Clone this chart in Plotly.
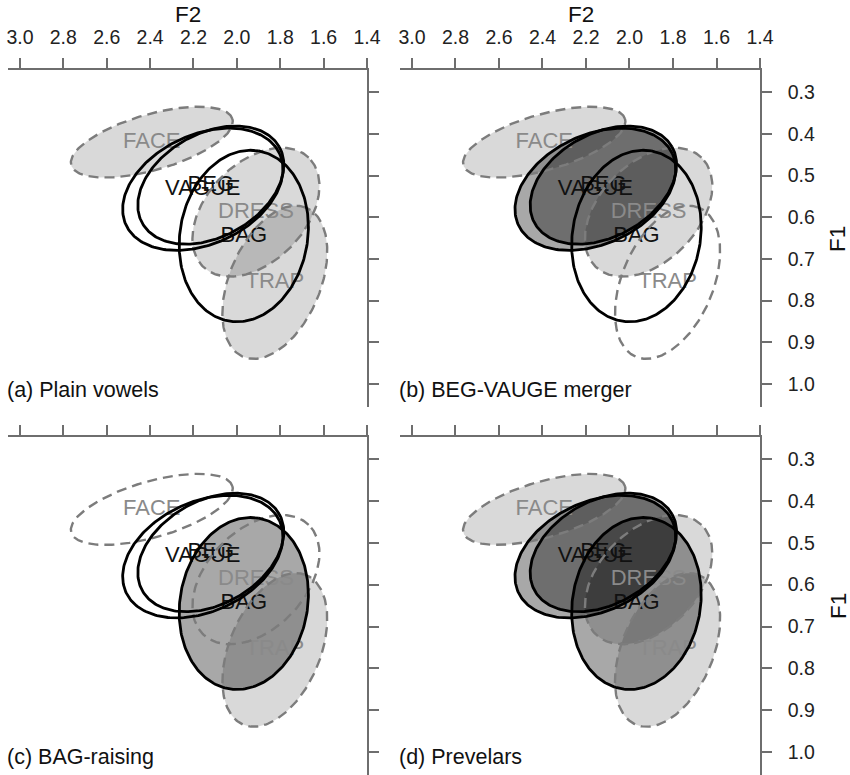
import numpy as np
import plotly.graph_objects as go

W, H = 850, 775

# ---- data -------------------------------------------------------------
vowels = ["FACE", "VAGUE", "BEG", "DRESS", "TRAP", "BAG"]
f2_center = [2.392, 2.157, 2.120, 1.912, 1.825, 1.968]   # kHz
f1_center = [0.420, 0.533, 0.523, 0.588, 0.756, 0.645]   # kHz
semi_major = [0.201, 0.203, 0.188, 0.182, 0.194, 0.207]  # in F1 units (display-equivalent)
semi_minor = [0.067, 0.131, 0.124, 0.118, 0.109, 0.153]
angle_deg = [16, 25, 29, 46, 67, 80]
vowel_kind = ["plain", "target", "target", "plain", "plain", "target"]

panel_titles = ["(a) Plain vowels", "(b) BEG-VAUGE merger", "(c) BAG-raising", "(d) Prevelars"]
panel_filled = [
    ["FACE", "DRESS", "TRAP"],
    ["FACE", "DRESS", "BEG", "VAGUE"],
    ["TRAP", "BAG"],
    ["FACE", "DRESS", "TRAP", "BEG", "VAGUE", "BAG"],
]

f2_ticks = [3.0, 2.8, 2.6, 2.4, 2.2, 2.0, 1.8, 1.6, 1.4]
f1_ticks = [0.3, 0.4, 0.5, 0.6, 0.7, 0.8, 0.9, 1.0]

# ---- layout geometry ----------------------------------------------------
x_range = [3.055, 1.4]
y_range = [1.055, 0.247]
x_doms = [[8 / W, 367 / W], [400 / W, 760 / W]]
y_doms = [[1 - 407 / H, 1 - 70 / H], [0.0, 1 - 437 / H]]

px_per_f2 = W * (x_doms[0][1] - x_doms[0][0]) / abs(x_range[0] - x_range[1])
px_per_f1 = H * (y_doms[0][1] - y_doms[0][0]) / abs(y_range[0] - y_range[1])
ratio = px_per_f1 / px_per_f2

FONT = "Liberation Sans, Arial, Helvetica, sans-serif"
LIGHT = "rgba(0,0,0,0.15)"
MEDIUM = "rgba(0,0,0,0.34)"
DASH_COL = "#7c7c7c"
AX_COL = "#6e6e6e"


def ellipse(i, n=240):
    t = np.linspace(0, 2 * np.pi, n)
    th = np.deg2rad(angle_deg[i])
    u = semi_major[i] * np.cos(t)
    v = semi_minor[i] * np.sin(t)
    du = u * np.cos(th) - v * np.sin(th)
    dv = u * np.sin(th) + v * np.cos(th)
    return f2_center[i] - du * ratio, f1_center[i] - dv


fig = go.Figure()

for p in range(4):
    row, col = divmod(p, 2)
    sfx = "" if p == 0 else str(p + 1)
    xa, ya = "x" + sfx, "y" + sfx

    # fills
    for i, v in enumerate(vowels):
        if v in panel_filled[p]:
            ex, ey = ellipse(i)
            fig.add_trace(go.Scatter(
                x=ex, y=ey, mode="lines", fill="toself",
                fillcolor=LIGHT if vowel_kind[i] == "plain" else MEDIUM,
                line=dict(width=0), hoverinfo="skip", showlegend=False,
                xaxis=xa, yaxis=ya))
    # labels
    for i, v in enumerate(vowels):
        fig.add_trace(go.Scatter(
            x=[f2_center[i]], y=[f1_center[i]], mode="text", text=[v],
            textposition="middle center",
            textfont=dict(family=FONT, size=22,
                          color="#8a8a8a" if vowel_kind[i] == "plain" else "#111111"),
            hoverinfo="skip", showlegend=False, xaxis=xa, yaxis=ya))
    # dashed outlines
    for i, v in enumerate(vowels):
        if vowel_kind[i] == "plain":
            ex, ey = ellipse(i)
            fig.add_trace(go.Scatter(
                x=ex, y=ey, mode="lines",
                line=dict(color=DASH_COL, width=2.4, dash="10px,6px"),
                hoverinfo="skip", showlegend=False, xaxis=xa, yaxis=ya))
    # solid outlines
    for i, v in enumerate(vowels):
        if vowel_kind[i] == "target":
            ex, ey = ellipse(i)
            fig.add_trace(go.Scatter(
                x=ex, y=ey, mode="lines",
                line=dict(color="#000000", width=2.8),
                hoverinfo="skip", showlegend=False, xaxis=xa, yaxis=ya))

    ax_common = dict(showgrid=False, zeroline=False, showline=True,
                     linecolor=AX_COL, linewidth=1.5, ticks="outside",
                     ticklen=10, tickwidth=1.5, tickcolor=AX_COL,
                     automargin=False, fixedrange=True,
                     tickfont=dict(family=FONT, size=19.5, color="#222222"))
    fig.layout["xaxis" + sfx] = dict(
        ax_common, domain=x_doms[col], range=x_range, side="top", anchor=ya,
        tickvals=f2_ticks, ticktext=[f"{t:.1f}" for t in f2_ticks],
        showticklabels=(row == 0), ticklabelstandoff=6)
    fig.layout["yaxis" + sfx] = dict(
        ax_common, domain=y_doms[row], range=y_range, side="right", anchor=xa,
        tickvals=f1_ticks, ticktext=[f"{t:.1f}" for t in f1_ticks],
        showticklabels=(col == 1), ticklabelstandoff=12)

    # panel caption
    fig.add_annotation(
        text=panel_titles[p], xref="paper", yref="paper",
        x=x_doms[col][0] - 3 / W,
        y=(1 - 390 / H) if row == 0 else (1 - 757 / H),
        xanchor="left", yanchor="middle", showarrow=False,
        font=dict(family=FONT, size=21.5, color="#111111"))

# axis titles
for col in range(2):
    fig.add_annotation(text="F2", xref="paper", yref="paper",
                       x=(188 + col * 393) / W, y=1 - 14.5 / H,
                       xanchor="center", yanchor="middle", showarrow=False,
                       font=dict(family=FONT, size=22.5, color="#111111"))
for row in range(2):
    fig.add_annotation(text="F1", xref="paper", yref="paper",
                       x=838 / W, y=1 - (239 + row * 367) / H, textangle=-90,
                       xanchor="center", yanchor="middle", showarrow=False,
                       font=dict(family=FONT, size=22.5, color="#111111"))

fig.update_layout(width=W, height=H, margin=dict(l=0, r=0, t=0, b=0, autoexpand=False),
                  paper_bgcolor="white", plot_bgcolor="white",
                  showlegend=False)

fig.write_html("out.html",
               config={"displayModeBar": False, "responsive": False},
               post_script="document.body.style.margin='0';document.body.style.padding='0';")
